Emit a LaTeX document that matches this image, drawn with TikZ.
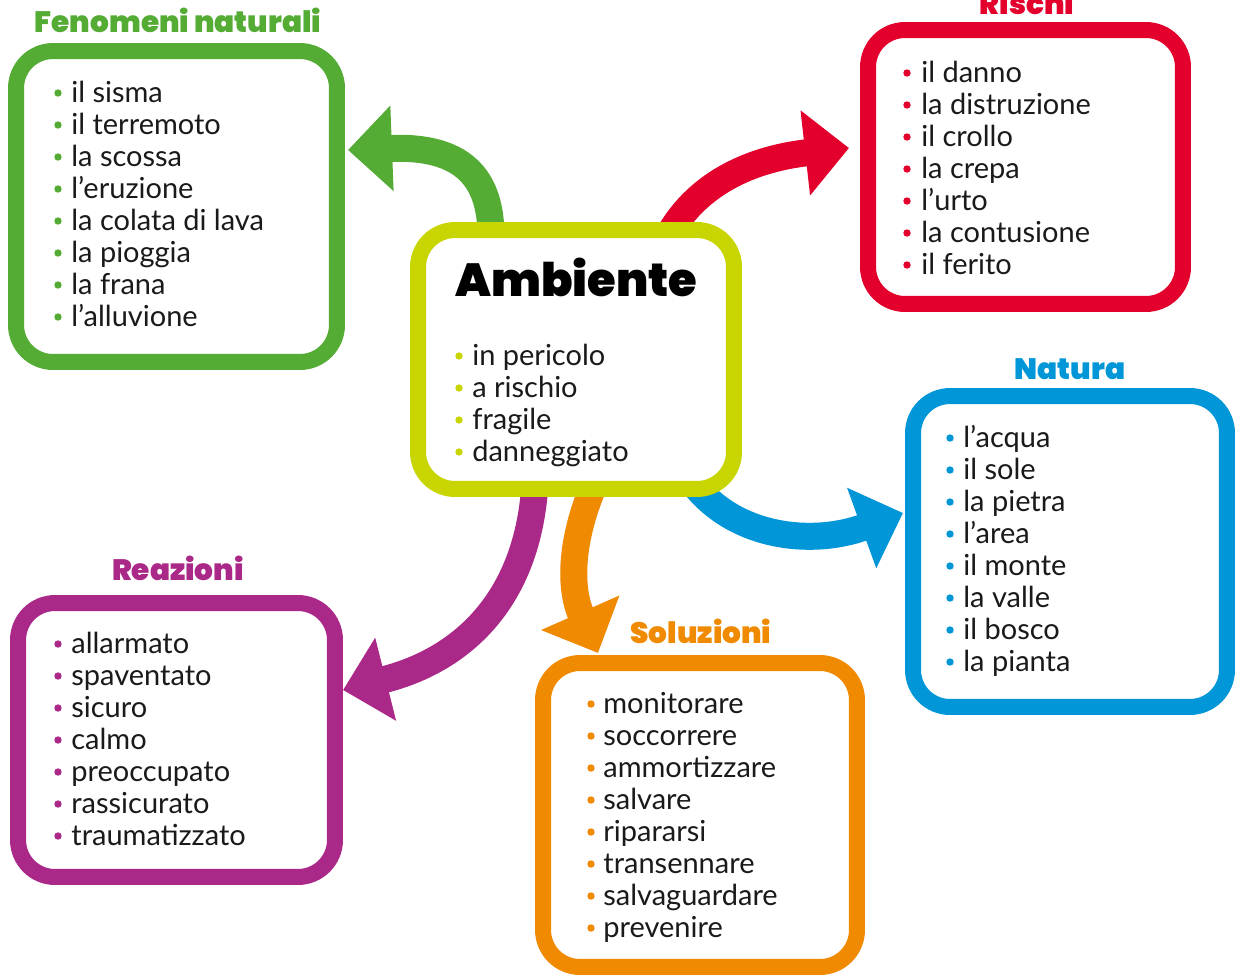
\documentclass[tikz,border=0pt]{standalone}
\usepackage{fontspec}
\setmainfont{Lato}
\IfFontExistsTF{Poppins Black}{%
  \newfontfamily\ttlfamily{Poppins Black}
  \newcommand\ttlfont{\ttlfamily}
  \newcommand\ttlsize{16.8}
  \newcommand\ambsize{26.4}
}{%
  \newfontfamily\ttlfamily{Poppins}
  \newcommand\ttlfont{\ttlfamily\bfseries}
  \newcommand\ttlsize{17.4}
  \newcommand\ambsize{27.2}
}
\usetikzlibrary{arrows.meta,calc}
\definecolor{gr}{RGB}{84,172,52}
\definecolor{rd}{RGB}{227,0,45}
\definecolor{yg}{RGB}{200,213,0}
\definecolor{bl}{RGB}{0,150,216}
\definecolor{pu}{RGB}{170,40,135}
\definecolor{orc}{RGB}{240,138,0}
\definecolor{txt}{RGB}{26,26,26}
\tikzset{
  box/.style={draw=#1, line width=0.32cm, rounded corners=0.74cm, fill=white, inner sep=0pt},
  ttlnode/.style={anchor=base, font=\ttlfont\fontsize{\ttlsize}{20}\selectfont, text=#1, inner sep=0pt},
  itemnode/.style={anchor=base west, font=\fontsize{16.5}{18}\selectfont, text=txt, inner sep=0pt},
  conn/.style={draw=#1, line width=0.54cm, -{Triangle[length=0.88cm,width=1.66cm]}},
}
\newcommand\mklist[6]{%
  \foreach \t [count=\i] in {#6} {
    \pgfmathsetmacro\yy{#5+32*(\i-1)}
    \fill[#2] (#3,\yy-9) circle[radius=3.7];
    \node[itemnode] (#1\i) at (#4,\yy) {\t};
  }%
}
\begin{document}
\begin{tikzpicture}[x=0.02cm,y=-0.02cm]
\useasboundingbox (0,0) rectangle (1237,977);
\fill[white] (0,0) rectangle (1237,977);

% tip coordinates
\coordinate (gtip) at (348,150);
\coordinate (rtip) at (849,148);
\coordinate (btip) at (903,513);
\coordinate (ptip) at (343,690);
\coordinate (otip) at (598,653);

% central node (placed first for anchors, drawn over arrows later)
\path (576,359.5) coordinate (ambc);
\node[minimum width=6.32cm, minimum height=5.18cm, inner sep=0pt, outer sep=0.16cm] (amb) at (ambc) {};

% arrows
\draw[conn=gr] ($(amb.north)+(-85,14)$) .. controls (491,168) and (452,146) .. (gtip);
\draw[conn=rd] ($(amb.north)+(92,14)$) .. controls (700,178) and (760,158) .. (rtip);
\draw[conn=bl] ($(amb.south)+(117,-14)$) .. controls (735,538) and (812,546) .. (btip);
\draw[conn=pu] ($(amb.south)+(-41,-14)$) .. controls (528,600) and (462,660) .. (ptip);
\draw[conn=orc] ($(amb.south)+(19,-14)$) .. controls (572,535) and (568,585) .. (otip);

% boxes
\node[box=gr, minimum width=6.42cm, minimum height=6.22cm] (gbox) at (176.5,206.5) {};
\node[box=rd, minimum width=6.30cm, minimum height=5.48cm] (rbox) at (1025.5,167) {};
\node[box=yg, minimum width=6.32cm, minimum height=5.18cm] (abox) at (ambc) {};
\node[box=bl, minimum width=6.28cm, minimum height=6.22cm] (bbox) at (1070,551.5) {};
\node[box=pu, minimum width=6.34cm, minimum height=5.48cm] (pbox) at (176.5,740) {};
\node[box=orc, minimum width=6.28cm, minimum height=6.08cm] (obox) at (700,815) {};

% titles
\node[ttlnode=gr] (gtitle) at (178,32) {Fenomeni naturali};
\node[ttlnode=rd] (rtitle) at (1027,14) {Rischi};
\node[ttlnode=bl] (btitle) at (1070,379) {Natura};
\node[ttlnode=pu] (ptitle) at (178,580) {Reazioni};
\node[ttlnode=orc] (otitle) at (701,643) {Soluzioni};
\node[anchor=base west, inner sep=0pt, font=\ttlfont\fontsize{\ambsize}{30}\selectfont, text=black] (atitle) at (455,296) {Ambiente};

% lists
\mklist{g}{gr}{58}{71}{102}{il sisma,il terremoto,la scossa,l’eruzione,la colata di lava,la pioggia,la frana,l’alluvione}
\mklist{r}{rd}{907}{921}{82}{il danno,la distruzione,il crollo,la crepa,l’urto,la contusione,il ferito}
\mklist{a}{yg}{459}{472}{365}{in pericolo,a rischio,fragile,danneggiato}
\mklist{b}{bl}{950}{963}{447}{l’acqua,il sole,la pietra,l’area,il monte,la valle,il bosco,la pianta}
\mklist{p}{pu}{58}{71}{653}{allarmato,spaventato,sicuro,calmo,preoccupato,rassicurato,traumatizzato}
\mklist{o}{orc}{591}{603}{713}{monitorare,soccorrere,ammortizzare,salvare,ripararsi,transennare,salvaguardare,prevenire}
\end{tikzpicture}
\end{document}
